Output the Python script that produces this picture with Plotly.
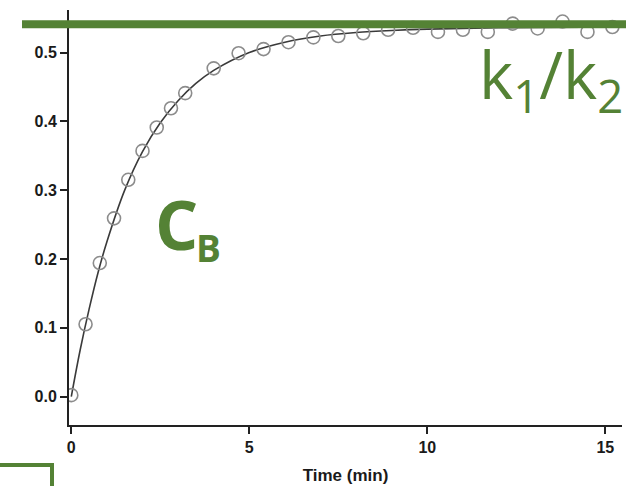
import plotly.graph_objects as go

# ---- data ----
time_min = [0, 0.4, 0.8, 1.2, 1.6, 2.0, 2.4, 2.8, 3.2, 4.0, 4.7, 5.4, 6.1, 6.8, 7.5,
            8.2, 8.9, 9.6, 10.3, 11.0, 11.7, 12.4, 13.1, 13.8, 14.5, 15.2]
conc_b = [0.002, 0.105, 0.194, 0.259, 0.315, 0.357, 0.391, 0.419, 0.441, 0.477, 0.499,
          0.505, 0.515, 0.522, 0.524, 0.528, 0.533, 0.536, 0.530, 0.533, 0.530, 0.542,
          0.535, 0.545, 0.530, 0.537]

fit_time = [0, 0.25, 0.5, 0.75, 1.0, 1.5, 2.0, 2.5, 3.0, 3.5, 4.0, 5.0, 6.0, 7.0, 8.0,
            9.0, 10.0, 12.0, 15.4]
fit_conc = [0.0, 0.068, 0.127, 0.180, 0.225, 0.300, 0.356, 0.398, 0.430, 0.455, 0.474,
            0.500, 0.515, 0.524, 0.529, 0.532, 0.534, 0.536, 0.537]

x_ticks = [0, 5, 10, 15]
y_ticks = [0.0, 0.1, 0.2, 0.3, 0.4, 0.5]
y_tick_text = ["0.0", "0.1", "0.2", "0.3", "0.4", "0.5"]
plateau = 0.541  # k1/k2 level

GREEN = "#548235"
W, H = 636, 486
L, R, T, B = 69, 14, 10, 61


def px(X, Y):
    return (X - L) / (W - L - R), (H - B - Y) / (H - T - B)


fig = go.Figure()
fig.add_trace(go.Scatter(x=fit_time, y=fit_conc, mode="lines",
                         line=dict(color="#3a3a3a", width=1.6, shape="spline"),
                         hoverinfo="skip", showlegend=False))
fig.add_trace(go.Scatter(x=time_min, y=conc_b, mode="markers",
                         marker=dict(symbol="circle-open", size=13, color="#8c8c8c",
                                     line=dict(color="#8c8c8c", width=1.6)),
                         showlegend=False))

# green plateau line (extends past the axis)
x0, _ = px(22, 0)
x1, _ = px(626, 0)
fig.add_shape(type="line", xref="paper", yref="y", x0=x0, x1=x1, y0=plateau, y1=plateau,
              line=dict(color=GREEN, width=8))

# green bracket bottom-left
bx0, by0 = px(-5, 465)
bx1, _ = px(52, 465)
_, by2 = px(52, 495)
fig.add_shape(type="path", xref="paper", yref="paper",
              path=f"M {bx0},{by0} L {bx1},{by0} L {bx1},{by2}",
              line=dict(color=GREEN, width=4))

ann = []
cx, cy = px(153, 224)
ann.append(dict(text="C", x=cx, y=cy, xanchor="left", yanchor="middle",
                font=dict(family="Open Sans", size=68, color=GREEN, weight="bold")))
bx, byy = px(194, 247)
ann.append(dict(text="B", x=bx, y=byy, xanchor="left", yanchor="middle",
                font=dict(family="Open Sans", size=37, color=GREEN, weight="bold")))
kx, ky = px(477, 78)
ann.append(dict(text="k<sub>1</sub>/k<sub>2</sub>", x=kx, y=ky, xanchor="left", yanchor="middle",
                font=dict(family="Open Sans", size=65, color=GREEN)))
for a in ann:
    a.update(xref="paper", yref="paper", showarrow=False)

fig.update_layout(
    width=W, height=H,
    margin=dict(l=L, r=R, t=T, b=B, autoexpand=False),
    paper_bgcolor="white", plot_bgcolor="white",
    annotations=ann,
    xaxis=dict(range=[-0.065, 15.47], tickvals=x_ticks, ticks="outside", ticklen=7,
               tickwidth=2, tickcolor="#222", showline=True, linewidth=2, linecolor="#222",
               showgrid=False, zeroline=False, automargin=False,
               tickfont=dict(family="Liberation Sans", size=16, color="#1a1a1a", weight="bold"),
               title=dict(text="Time (min)", standoff=14,
                          font=dict(family="Liberation Sans", size=17, color="#1a1a1a", weight="bold"))),
    yaxis=dict(range=[-0.0414, 0.5618], tickvals=y_ticks, ticktext=y_tick_text, ticks="outside",
               ticklen=7, tickwidth=2, tickcolor="#222", showline=True, linewidth=2,
               linecolor="#222", showgrid=False, zeroline=False, automargin=False,
               tickfont=dict(family="Liberation Sans", size=16, color="#1a1a1a", weight="bold")),
)

fig.write_html("out.html", config={"displayModeBar": False},
               post_script="document.body.style.margin='0px';document.body.style.overflow='hidden';")
